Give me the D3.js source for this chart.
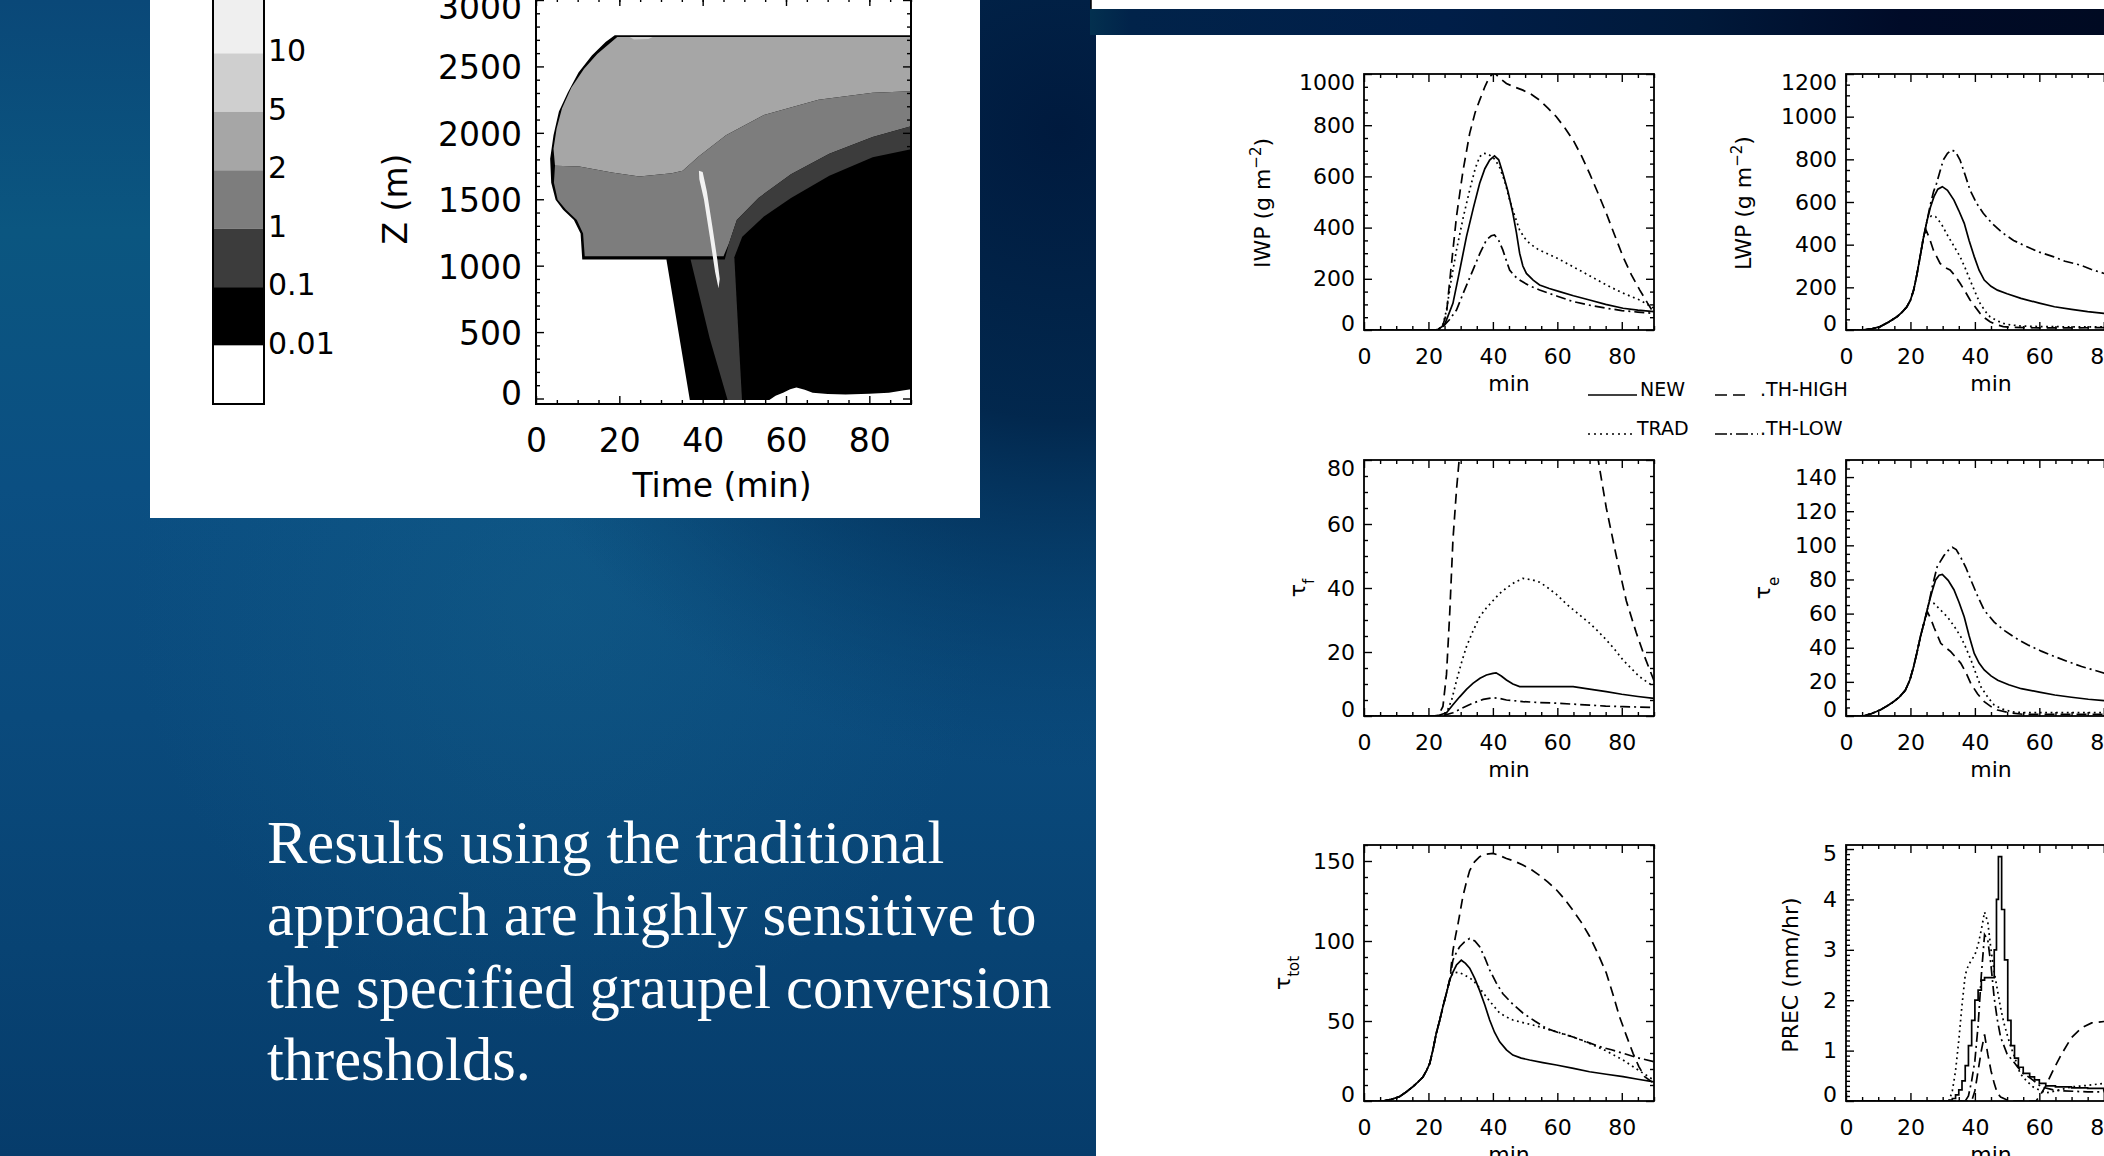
<!DOCTYPE html>
<html><head><meta charset="utf-8">
<script src="https://cdn.jsdelivr.net/npm/d3@7"></script>
<style>html,body{margin:0;padding:0;overflow:hidden;background:#0a4878}svg{display:block}</style>
</head><body>
<svg id="c" width="2104" height="1156"></svg>
<script>
// ================= DATA =================
const slideText = ["Results using the traditional","approach are highly sensitive to","the specified graupel conversion","thresholds."];

// colour bar of the time-height section (top to bottom)
const colorbarLabels = ["10","5","2","1","0.1","0.01"];
const colorbarShades = ["#efefef","#cfcfcf","#a6a6a6","#7d7d7d","#3c3c3c","#000000","#ffffff"];
const contourTicksX = [0,20,40,60,80];
const contourTicksY = [0,500,1000,1500,2000,2500,3000];

// contour regions, [time (min), height (m)]
const regionEnvelope = [[18.9,2735],[90.5,2735],[90.5,-45],[37.1,-45],[31.3,1046],[11.1,1046],[10.7,1242],[9.1,1344],[6.5,1421],[4.7,1497],[3.65,1625],[3.4,1804],[4.2,1982],[5.5,2161],[7.6,2301],[10.2,2454],[13.4,2582],[16.7,2684]];
const regionMid = [[19.5,2722],[90.5,2722],[90.5,2314],[80.8,2301],[67.8,2250],[54.7,2135],[45.6,1982],[39.1,1824],[35.2,1714],[32.6,1696],[24.8,1671],[18.2,1701],[10.4,1747],[4.56,1753],[4.2,1880],[4.95,2033],[6.25,2186],[8.47,2339],[11.5,2480],[14.7,2594],[17.6,2671]];
const regionLight = [[22.5,2722],[28,2722],[27,2706],[23.5,2702]];
const regionLow = [[4.56,1753],[10.4,1747],[18.2,1701],[24.8,1671],[32.6,1696],[35.2,1714],[39.1,1824],[45.6,1982],[54.7,2135],[67.8,2250],[80.8,2301],[90.5,2314],[90.5,2054],[80.8,1969],[70.4,1842],[61.2,1689],[53.4,1510],[48.2,1344],[46.3,1166],[45,1071],[11.7,1071],[11.3,1242],[9.8,1344],[7.2,1421],[5.2,1497],[4.3,1625]];
const regionDark = [[90.5,2054],[80.8,1969],[70.4,1842],[61.2,1689],[53.4,1510],[48.2,1344],[46.3,1166],[45.3,1046],[37.1,1046],[41.7,452],[46.3,-45],[90.5,-45]];
const regionCore = [[90.5,1880],[80.8,1816],[70.4,1676],[61.2,1510],[54.7,1370],[49.5,1217],[47.6,1064],[48.2,707],[49.5,-45],[90.5,-45]];
const regionStreak = [[39.1,1714],[40.0,1705],[41.0,1560],[42.3,1300],[43.5,1050],[44.1,900],[43.8,830],[43.0,950],[41.8,1200],[40.3,1500],[39.2,1650]];
const regionClear = [[0,-60],[0,-12],[56,-12],[57.5,20],[59.3,43],[61,70],[62.5,82],[64.5,65],[66.4,43],[70,33],[74.3,31],[80,36],[84.7,43],[88,60],[91,74],[91,-60]];

// line panels, [time (min), value]
const xTicks = [0,20,40,60,80];
const seriesNames = ["NEW","TRAD","TH-HIGH","TH-LOW"];

const iwpNew  = [[0,0],[22,0],[23,3],[25,20],[27.6,104],[29.5,220],[31.8,365],[34,480],[35.9,573],[37.5,630],[39,664],[40.5,680],[41.8,665],[43.1,612],[44.7,540],[46.2,456],[47.3,380],[48.3,300],[49.3,250],[50.4,221],[52.5,195],[54.5,176],[57.5,162],[60.7,150],[65,134],[70,117],[75,100],[80.4,85],[85,78],[90,72]];
const iwpTrad = [[0,0],[23,0],[24.5,20],[25.6,78],[27,190],[28.7,312],[30.8,440],[32.8,547],[34.5,630],[35.9,677],[37,690],[38.5,688],[40.5,668],[42,638],[43.7,580],[45.2,508],[46.8,445],[48.3,390],[49.8,360],[51.4,338],[54,315],[56.6,300],[60,280],[64.9,247],[70,212],[75.2,176],[80,146],[85.6,117],[90,85]];
const iwpHigh = [[0,0],[23,0],[24.5,20],[25.6,65],[27,240],[28.7,443],[30.7,620],[32.8,768],[34.5,850],[35.9,898],[37.5,950],[39,990],[40.5,1005],[42,985],[44.2,963],[46.5,950],[49.3,937],[52,920],[54.5,898],[57,868],[59.7,833],[62.3,790],[64.9,742],[67.5,680],[70,612],[72.6,535],[75.2,456],[77.8,370],[80.4,286],[83,215],[85.6,156],[88,105],[90,65]];
const iwpLow  = [[0,0],[23,0],[24.5,13],[26.5,40],[28.7,78],[31,150],[33.8,234],[36,300],[38,352],[39.5,368],[40.5,371],[41.8,350],[43.1,312],[44.2,270],[45.2,234],[46.8,210],[48.3,195],[51,175],[54.5,156],[60,132],[64.9,111],[70,97],[75.2,85],[80,76],[85,70],[90,65]];

const lwpNew  = [[0,0],[5,0],[8,5],[10.6,16],[13,35],[15.8,62],[17.5,85],[18.9,109],[20,140],[21,187],[22,260],[23,344],[24,430],[25.2,516],[26.2,575],[27.3,625],[28.5,660],[29.9,672],[31.5,655],[33.5,609],[35,560],[36.7,500],[38.2,420],[39.8,344],[41.3,280],[42.9,234],[45,205],[47,187],[50,170],[54.3,148],[60,126],[64.7,109],[70,97],[75,86],[80,78],[85,68],[90,60]];
const lwpTrad = [[0,0],[5,0],[8,5],[10.6,16],[13,35],[15.8,62],[17.5,85],[18.9,109],[20,140],[21,187],[22,260],[23,344],[24,430],[25.2,516],[26.5,535],[27.8,531],[29.5,500],[31.2,452],[33.3,398],[35.4,344],[37,290],[38.5,234],[40,180],[41.6,125],[43.2,88],[44.7,62],[46.7,45],[48.8,31],[51,24],[54,19],[60,16],[70,15],[80,15],[90,16]];
const lwpHigh = [[0,0],[5,0],[8,5],[10.6,16],[13,35],[15.8,62],[17.5,85],[18.9,109],[20,140],[21,187],[22,260],[23,344],[24,430],[24.8,470],[25.9,430],[27.1,375],[29.2,312],[30.8,292],[32.3,281],[33.8,255],[35.4,219],[37,180],[38.5,141],[40,110],[41.6,78],[43.2,55],[44.7,39],[46.7,25],[48.8,16],[52,12],[60,10],[70,10],[80,11],[90,12]];
const lwpLow  = [[0,0],[5,0],[8,5],[10.6,16],[13,35],[15.8,62],[17.5,85],[18.9,109],[20,140],[21,187],[22,260],[23,344],[24,430],[25.2,516],[26.2,590],[27.2,650],[28.1,687],[29.2,745],[30.2,797],[31.5,828],[32.8,844],[34,835],[35.4,797],[37,725],[38.5,656],[40.5,595],[42.6,547],[45.5,497],[48.8,453],[52,420],[56,391],[60,365],[64.3,344],[68,322],[72.6,305],[76,285],[79.9,266],[85,248],[90,230]];

const tfNew  = [[0,0],[21.4,0],[23.5,0.3],[25.6,1],[27.6,3.5],[29.7,6],[31.8,8.3],[33.8,10.2],[36,11.8],[38,12.8],[40,13.3],[41,13.5],[42.6,12.5],[44.2,11.25],[46.2,10],[48.3,9.2],[54.5,9.2],[60,9.2],[64.9,9.2],[70,8.4],[75.2,7.6],[80,6.8],[85,6.1],[90,5.5]];
const tfTrad = [[0,0],[23,0],[25.6,1],[27.2,5],[28.7,11],[30.2,16.5],[31.8,21.7],[33.8,26.5],[35.9,31],[38,33.8],[40,36],[42,38.2],[44.2,40],[46.8,41.8],[49.3,43],[52.4,42.5],[54.5,41.8],[56.6,40.4],[59.7,38],[62.8,35],[66.4,32],[70,29],[72.6,26.5],[75.2,23.8],[77.8,20.8],[80.4,17.5],[83,14.8],[85.5,12.3],[88,10.5],[90,9.2]];
const tfHigh = [[0,0],[23,0],[24.5,3],[25.6,13],[26.6,32],[27.6,55],[28.7,70.6],[29.7,82],[32,100],[35,119],[40,138],[45,145],[50,145],[55,140],[60,131],[65,118],[70,98],[72.6,80.5],[75.2,65],[78.3,50],[81.4,36],[84.5,26],[87.1,18.5],[90,11]];
const tfLow  = [[0,0],[24,0],[27.6,1],[30.5,2.5],[33.8,4],[37,5.2],[40,5.7],[42,5.5],[44.2,5],[49.3,4.5],[54.5,4.2],[59.7,4],[65,3.7],[70,3.4],[75,3.1],[80.4,2.9],[85,2.8],[90,2.7]];

const teNew  = [[0,0],[5.4,0],[8,1.5],[10.6,3.5],[12.7,5.8],[14.8,8.4],[16.6,11.2],[18.4,15],[19.8,21],[21,29],[22,37],[23.1,46.5],[24.4,56],[25.7,66],[26.8,73.5],[27.8,79.7],[28.9,82.5],[29.9,83],[31.7,79.5],[33.5,74],[35.1,66.5],[36.7,58],[38.2,47],[39.8,36.7],[41.3,31],[42.9,27],[45,23.5],[47.1,21],[50.5,18.3],[54.4,16],[60,14],[64.8,12.3],[70,11],[75.2,9.8],[80.4,9],[85,8],[90,7]];
const teTrad = [[0,0],[5.4,0],[8,1.5],[10.6,3.5],[12.7,5.8],[14.8,8.4],[16.6,11.2],[18.4,15],[19.8,21],[21,29],[22,37],[23.1,46.5],[24.4,56],[25.7,66],[27.3,66],[29.4,62],[31.5,58],[33.6,52.5],[35.6,46.5],[37.2,40],[38.75,33],[40.3,25],[41.9,17],[44,11],[46,6.4],[48.6,4],[51.25,2.5],[55,2],[60,2],[70,2],[80,2],[90,2]];
const teHigh = [[0,0],[5.4,0],[8,1.5],[10.6,3.5],[12.7,5.8],[14.8,8.4],[16.6,11.2],[18.4,15],[19.8,21],[21,29],[22,37],[23.1,46.5],[24.4,56],[25.3,61],[26.3,57],[27.3,52],[29.4,42.6],[31,40],[32.5,37.7],[34,34.5],[35.6,31],[37.2,25.5],[38.75,19],[40.8,13],[42.9,8.4],[45,5.5],[47,3.5],[51,1.8],[55,1],[70,1],[90,1]];
const teLow  = [[0,0],[5.4,0],[8,1.5],[10.6,3.5],[12.7,5.8],[14.8,8.4],[16.6,11.2],[18.4,15],[19.8,21],[21,29],[22,37],[23.1,46.5],[24.4,56],[25.7,66],[26.8,76],[28.3,87.5],[30.4,94],[31.7,97],[33,98.8],[34.2,97.5],[35.6,93],[37.2,87],[38.75,79.7],[40.8,70.5],[42.9,62],[46,55],[49.2,50],[52.8,45.5],[56.5,41.6],[60.6,38],[64.8,34.8],[69,31.8],[73.1,29],[76.8,27],[80.4,25],[85,23.5],[90,22]];

const ttNew  = [[0,0],[5.9,0],[8.5,1],[11,2.7],[13,5.5],[15.2,9],[16.8,12],[18.3,15],[19.4,19],[20.4,23.5],[21.4,32],[22.4,42],[23.5,50.5],[24.5,59],[25.6,67.5],[26.6,75.6],[27.6,80.5],[28.7,85],[30.2,88],[31.5,86],[32.8,83],[34.4,76.5],[35.9,69],[37.5,60],[39,50.6],[40.5,43],[42.1,37],[44.2,32],[46.2,28.7],[48.8,26.8],[51.4,25.6],[55.5,24],[59.7,22.5],[65,20.4],[70,18.3],[75.2,16.7],[80.4,15.2],[85,13.6],[90,12]];
const ttTrad = [[0,0],[5.9,0],[8.5,1],[11,2.7],[13,5.5],[15.2,9],[16.8,12],[18.3,15],[19.4,19],[20.4,23.5],[21.4,32],[22.4,42],[23.5,50.5],[24.5,59],[25.6,67.5],[26.6,75.6],[27.6,80],[29.2,80.5],[31,79],[33.8,75.6],[35.9,70.5],[38,65],[40,60],[42.1,55],[44.2,52.5],[46.2,50.6],[49.3,49],[52.4,47.5],[56,45.5],[59.7,43.3],[65,40],[70,36],[75,31.5],[80.4,25.6],[85,19.5],[90,13]];
const ttHigh = [[0,0],[5.9,0],[8.5,1],[11,2.7],[13,5.5],[15.2,9],[16.8,12],[18.3,15],[19.4,19],[20.4,23.5],[21.4,32],[22.4,42],[23.5,50.5],[24.5,59],[25.6,67.5],[26.6,75.6],[27.6,94],[28.4,103],[29.2,111],[30,120],[30.7,128],[31.8,137],[32.8,144],[34.3,149.5],[35.9,152.7],[38,154.3],[40,154.8],[42,153.5],[44.2,151.6],[46.8,149.8],[49.3,147.5],[52,144.5],[54.5,141],[57,137],[59.7,132],[62.3,126],[64.9,119],[67.5,111.5],[70,103],[72.6,92],[75.2,80],[77.2,67],[79.3,52.7],[81.4,41],[83.5,29.8],[85.3,21.5],[87.1,15.2],[90,11]];
const ttLow  = [[0,0],[5.9,0],[8.5,1],[11,2.7],[13,5.5],[15.2,9],[16.8,12],[18.3,15],[19.4,19],[20.4,23.5],[21.4,32],[22.4,42],[23.5,50.5],[24.5,59],[25.6,67.5],[26.6,75.6],[27.6,88],[28.7,93],[29.7,96.4],[31.2,99.5],[32.8,101.6],[34.4,100],[35.9,96.4],[37.5,89.5],[39,82],[41,74],[43.1,67],[46.2,60.5],[49.3,55],[53,50],[56.6,45.4],[60.7,42.5],[64.9,40],[69,37],[73.1,34],[76.8,32],[80.4,29.8],[85,27],[90,24.6]];

const precNew  = [[0,0],[31,0],[32,0.02],[33,0.05],[34,0.12],[35,0.22],[36,0.4],[37,0.7],[38,1.1],[39,1.6],[40,2.0],[41,2.2],[42,2.4],[43,2.45],[44,2.45],[45,2.45],[46,3.0],[46.7,4.0],[47.3,4.85],[48.3,3.8],[49.2,2.8],[50.2,1.6],[51.2,1.1],[52.3,0.85],[53.5,0.67],[55,0.55],[57,0.48],[58.5,0.42],[60,0.35],[62,0.3],[65,0.28],[70,0.26],[75,0.25],[80,0.21],[85,0.2],[90,0.2]];
const precTrad = [[0,0],[32,0],[33,0.2],[34,0.6],[35,1.2],[36,1.9],[37,2.5],[38,2.7],[39,2.8],[40,2.9],[41,3.1],[42,3.4],[43,3.75],[44,3.55],[45,3.0],[46,2.56],[47,2.2],[48,1.84],[49,1.55],[50,1.32],[51,1.1],[52,0.93],[53,0.75],[54,0.55],[56,0.4],[58,0.28],[60,0.22],[62,0.16],[65,0.2],[70,0.28],[75,0.31],[80,0.35],[85,0.35],[90,0.35]];
const precHigh = [[0,0],[39,0],[40,0.2],[41,0.6],[42,1.0],[43,1.32],[44,0.93],[45,0.6],[46,0.35],[47,0.15],[48,0.08],[50,0.02],[52,0],[59,0],[60.6,0.15],[62,0.3],[63.75,0.54],[65,0.7],[66.9,0.93],[70,1.26],[73.1,1.45],[76.25,1.55],[80.4,1.58],[85,1.55],[90,1.5]];
const precLow  = [[0,0],[37,0],[38,0.1],[39,0.4],[40,0.8],[41,1.5],[42,2.5],[43,3.3],[44,3.2],[45,2.69],[46,2.04],[47,1.6],[48,1.26],[49,1.1],[50,0.93],[52,0.78],[53.3,0.67],[55,0.55],[57.5,0.44],[60.6,0.28],[65,0.21],[75,0.18],[90,0.18]];

// ================= DRAWING =================
const svg = d3.select("#c");
const defs = svg.append("defs");
const FONT = "'DejaVu Sans', sans-serif";

// background gradients
const bg = defs.append("linearGradient").attr("id","bg").attr("x1",0).attr("y1",0).attr("x2",0).attr("y2",1);
[[0,"#0a4878"],[0.2,"#0b5680"],[0.42,"#0b4f82"],[0.62,"#0a4a7c"],[0.82,"#084373"],[1,"#063c6b"]]
  .forEach(s=>bg.append("stop").attr("offset",s[0]).attr("stop-color",s[1]));
const dk = defs.append("radialGradient").attr("id","dk").attr("gradientUnits","userSpaceOnUse")
  .attr("cx",1060).attr("cy",130).attr("r",640);
[[0,"#001a3e",1],[0.45,"#012449",0.92],[0.75,"#03335c",0.45],[1,"#063c66",0]]
  .forEach(s=>dk.append("stop").attr("offset",s[0]).attr("stop-color",s[1]).attr("stop-opacity",s[2]));
const tl = defs.append("radialGradient").attr("id","tl").attr("gradientUnits","userSpaceOnUse")
  .attr("cx",560).attr("cy",600).attr("r",430);
[[0,"#1a6c90",0.28],[1,"#1a6c90",0]].forEach(s=>tl.append("stop").attr("offset",s[0]).attr("stop-color",s[1]).attr("stop-opacity",s[2]));
const band = defs.append("linearGradient").attr("id","band").attr("x1",0).attr("y1",0).attr("x2",1).attr("y2",0);
[[0,"#03304f"],[0.04,"#01234a"],[0.35,"#001e48"],[0.6,"#00193a"],[0.8,"#000b28"],[1,"#000a22"]]
  .forEach(s=>band.append("stop").attr("offset",s[0]).attr("stop-color",s[1]));

svg.append("rect").attr("width",2104).attr("height",1156).attr("fill","url(#bg)");
svg.append("rect").attr("width",2104).attr("height",1156).attr("fill","url(#tl)");
svg.append("rect").attr("width",2104).attr("height",1156).attr("fill","url(#dk)");

// right-hand figure frame
svg.append("rect").attr("x",1090).attr("y",9).attr("width",1014).attr("height",26).attr("fill","url(#band)");
svg.append("rect").attr("x",1091).attr("y",0).attr("width",1013).attr("height",9).attr("fill","#fff");
svg.append("line").attr("x1",1091).attr("x2",1091).attr("y1",0).attr("y2",9).attr("stroke","#000").attr("stroke-width",1.5);
svg.append("rect").attr("x",1096).attr("y",35).attr("width",1008).attr("height",1121).attr("fill","#fff");

// left figure panel
svg.append("rect").attr("x",150).attr("y",0).attr("width",830).attr("height",518).attr("fill","#fff");

// slide text
const st = svg.append("text").attr("font-family","'Liberation Serif','Times New Roman',serif")
  .attr("font-size",60.5).attr("fill","#fff");
slideText.forEach((t,i)=>st.append("tspan").attr("x",267).attr("y",863+i*72.3).text(t));

// ---------- colour bar ----------
const cbY = d3.scaleBand().domain(d3.range(colorbarShades.length)).range([-5,404]).paddingInner(0);
svg.append("g").selectAll("rect").data(colorbarShades).join("rect")
  .attr("x",213).attr("width",51).attr("y",(d,i)=>cbY(i)).attr("height",cbY.bandwidth()).attr("fill",d=>d);
svg.append("rect").attr("x",213).attr("y",-5).attr("width",51).attr("height",409)
  .attr("fill","none").attr("stroke","#000").attr("stroke-width",2);
svg.append("g").selectAll("text").data(colorbarLabels).join("text")
  .attr("x",268).attr("y",(d,i)=>cbY(i+1)+8).attr("font-family",FONT).attr("font-size",30).text(d=>d);

// ---------- time-height section ----------
const cx = d3.scaleLinear().domain([0,90]).range([536,911]);
const cy = d3.scaleLinear().domain([0,3000]).range([398.5,0]);
defs.append("clipPath").attr("id","clipC").append("rect").attr("x",536).attr("y",-2).attr("width",375).attr("height",406);
const cg = svg.append("g").attr("clip-path","url(#clipC)");
const poly = d3.line().x(d=>cx(d[0])).y(d=>cy(d[1]));
[[regionEnvelope,colorbarShades[5]],[regionMid,colorbarShades[2]],[regionLight,colorbarShades[1]],
 [regionLow,colorbarShades[3]],[regionDark,colorbarShades[4]],[regionCore,colorbarShades[5]],
 [regionStreak,"#f2f2f2"],[regionClear,colorbarShades[6]]]
 .forEach(r=>cg.append("path").attr("d",poly(r[0])+"Z").attr("fill",r[1]));

function styleAxis(g,size){
  g.select(".domain").remove();
  g.selectAll(".tick line").attr("stroke","#000").attr("stroke-width",1.4);
  g.attr("font-family",FONT).attr("font-size",size);
  g.selectAll(".tick text").attr("fill","#000");
}
{
  const minorX = d3.range(0,91,5), minorY = d3.range(0,3001,100);
  const y0 = 404;
  let g = svg.append("g").attr("transform",`translate(0,${y0})`)
    .call(d3.axisBottom(cx).tickValues(minorX.filter(v=>v%20)).tickSize(-4).tickFormat(""));
  styleAxis(g,33);
  g = svg.append("g").attr("transform",`translate(0,${y0})`)
    .call(d3.axisBottom(cx).tickValues(contourTicksX).tickSize(-8).tickPadding(25).tickFormat(d3.format("d")));
  styleAxis(g,33);
  g = svg.append("g").attr("transform","translate(0,-2)")
    .call(d3.axisTop(cx).tickValues(minorX).tickSize(-4).tickFormat(""));
  styleAxis(g,33);
  g = svg.append("g").attr("transform","translate(0,-2)")
    .call(d3.axisTop(cx).tickValues(contourTicksX).tickSize(-8).tickFormat(""));
  styleAxis(g,33);
  g = svg.append("g").attr("transform","translate(536,0)")
    .call(d3.axisLeft(cy).tickValues(minorY.filter(v=>v%500)).tickSize(-4).tickFormat(""));
  styleAxis(g,33);
  g = svg.append("g").attr("transform","translate(536,0)")
    .call(d3.axisLeft(cy).tickValues(contourTicksY).tickSize(-8).tickPadding(14).tickFormat(d3.format("d")));
  styleAxis(g,33);
  g.selectAll(".tick text").attr("y",d=>{const p=cy(d); return Math.max(Math.min(p,392),6)-p+2;});
  g = svg.append("g").attr("transform","translate(911,0)")
    .call(d3.axisRight(cy).tickValues(minorY.filter(v=>v%500)).tickSize(-4).tickFormat(""));
  styleAxis(g,33);
  g = svg.append("g").attr("transform","translate(911,0)")
    .call(d3.axisRight(cy).tickValues(contourTicksY).tickSize(-8).tickFormat(""));
  styleAxis(g,33);
  svg.append("rect").attr("x",536).attr("y",-2).attr("width",375).attr("height",406)
    .attr("fill","none").attr("stroke","#000").attr("stroke-width",2);
  svg.append("text").attr("x",722).attr("y",497).attr("text-anchor","middle")
    .attr("font-family",FONT).attr("font-size",33).text("Time (min)");
  svg.append("text").attr("transform","translate(407,199) rotate(-90)").attr("text-anchor","middle")
    .attr("font-family",FONT).attr("font-size",33).text("Z (m)");
}

// ---------- line panels ----------
const dash = {"NEW":null,"TRAD":"1.8,3.6","TH-HIGH":"10,6","TH-LOW":"10,4,2,4"};
const PW = 290, PH = 256;
const panels = [
  {key:"iwp",x:1364,y:74,yMax:1000,major:200,minor:50,data:[iwpNew,iwpTrad,iwpHigh,iwpLow],
   title:[["IWP (g m",null],["−2","super"],[")",null]],tx:1270,ty:203},
  {key:"lwp",x:1846,y:74,yMax:1200,major:200,minor:50,data:[lwpNew,lwpTrad,lwpHigh,lwpLow],
   title:[["LWP (g m",null],["−2","super"],[")",null]],tx:1751,ty:203},
  {key:"tf",x:1364,y:460,yMax:80,major:20,minor:5,data:[tfNew,tfTrad,tfHigh,tfLow],
   title:[["τ",null],["f","sub"]],tx:1305,ty:588},
  {key:"te",x:1846,y:460,yMax:150,major:20,minor:5,data:[teNew,teTrad,teHigh,teLow],
   title:[["τ",null],["e","sub"]],tx:1770,ty:588},
  {key:"tt",x:1364,y:845,yMax:160,major:50,minor:10,data:[ttNew,ttTrad,ttHigh,ttLow],
   title:[["τ",null],["tot","sub"]],tx:1290,ty:973},
  {key:"pr",x:1846,y:845,yMax:5.08,major:1,minor:0.1,data:[precNew,precTrad,precHigh,precLow],step:true,
   title:[["PREC (mm/hr)",null]],tx:1798,ty:975}
];

panels.forEach(p=>{
  const x = d3.scaleLinear().domain([0,90]).range([p.x,p.x+PW]);
  const y = d3.scaleLinear().domain([0,p.yMax]).range([p.y+PH,p.y]);
  const id = "clip_"+p.key;
  defs.append("clipPath").attr("id",id).append("rect").attr("x",p.x).attr("y",p.y).attr("width",PW).attr("height",PH);
  const lg = svg.append("g").attr("clip-path",`url(#${id})`);
  p.data.forEach((d,i)=>{
    const line = d3.line().x(v=>x(v[0])).y(v=>y(v[1]))
      .curve(p.step && i===0 ? d3.curveStepAfter : d3.curveLinear);
    lg.append("path").attr("d",line(d)).attr("fill","none").attr("stroke","#000")
      .attr("stroke-width",1.7).attr("stroke-dasharray",dash[seriesNames[i]]);
  });
  const minorX = d3.range(0,91,5);
  const nY = Math.round(p.yMax/p.minor);
  const allY = d3.range(0,nY+1).map(k=>+(k*p.minor).toFixed(4)).filter(v=>v<=p.yMax);
  const isMajor = v=>Math.abs(v/p.major-Math.round(v/p.major))<1e-6;
  const majY = allY.filter(isMajor), minY = allY.filter(v=>!isMajor(v));
  const bottom = p.y+PH;
  let g;
  g = svg.append("g").attr("transform",`translate(0,${bottom})`)
    .call(d3.axisBottom(x).tickValues(minorX.filter(v=>v%20)).tickSize(-4).tickFormat("")); styleAxis(g,22);
  g = svg.append("g").attr("transform",`translate(0,${bottom})`)
    .call(d3.axisBottom(x).tickValues(xTicks).tickSize(-8).tickPadding(18).tickFormat(d3.format("d"))); styleAxis(g,22);
  g = svg.append("g").attr("transform",`translate(0,${p.y})`)
    .call(d3.axisTop(x).tickValues(minorX.filter(v=>v%20)).tickSize(-4).tickFormat("")); styleAxis(g,22);
  g = svg.append("g").attr("transform",`translate(0,${p.y})`)
    .call(d3.axisTop(x).tickValues(xTicks).tickSize(-8).tickFormat("")); styleAxis(g,22);
  g = svg.append("g").attr("transform",`translate(${p.x},0)`)
    .call(d3.axisLeft(y).tickValues(minY).tickSize(-4).tickFormat("")); styleAxis(g,22);
  g = svg.append("g").attr("transform",`translate(${p.x},0)`)
    .call(d3.axisLeft(y).tickValues(majY).tickSize(-8).tickPadding(9).tickFormat(d3.format("d"))); styleAxis(g,22);
  g.selectAll(".tick text").attr("y",d=>{const q=y(d); return Math.max(Math.min(q,bottom-7),p.y+8)-q;});
  g = svg.append("g").attr("transform",`translate(${p.x+PW},0)`)
    .call(d3.axisRight(y).tickValues(minY).tickSize(-4).tickFormat("")); styleAxis(g,22);
  g = svg.append("g").attr("transform",`translate(${p.x+PW},0)`)
    .call(d3.axisRight(y).tickValues(majY).tickSize(-8).tickFormat("")); styleAxis(g,22);
  svg.append("rect").attr("x",p.x).attr("y",p.y).attr("width",PW).attr("height",PH)
    .attr("fill","none").attr("stroke","#000").attr("stroke-width",1.8);
  svg.append("text").attr("x",p.x+PW/2).attr("y",bottom+61).attr("text-anchor","middle")
    .attr("font-family",FONT).attr("font-size",22).text("min");
  const t = svg.append("text").attr("transform",`translate(${p.tx},${p.ty}) rotate(-90)`)
    .attr("text-anchor","middle").attr("font-family",FONT).attr("font-size",22);
  p.title.forEach(s=>{
    const ts = t.append("tspan").text(s[0]);
    if(s[1]){ ts.attr("baseline-shift",s[1]).attr("font-size",15); }
  });
});

// ---------- legend ----------
const legend = [
  {name:"NEW",x1:1588,x2:1637,tx:1640,y:396},
  {name:"TRAD",x1:1588,x2:1633,tx:1637,y:435},
  {name:"TH-HIGH",x1:1715,x2:1748,tx:1760,y:396,pre:"."},
  {name:"TH-LOW",x1:1715,x2:1758,tx:1760,y:435,pre:"."}
];
const legDash = {"NEW":null,"TRAD":"2,4","TH-HIGH":"12,6","TH-LOW":"12,3,2,4"};
legend.forEach(l=>{
  svg.append("line").attr("x1",l.x1).attr("x2",l.x2).attr("y1",l.y-1).attr("y2",l.y-1)
    .attr("stroke","#000").attr("stroke-width",1.7).attr("stroke-dasharray",legDash[l.name]);
  svg.append("text").attr("x",l.tx).attr("y",l.y).attr("font-family",FONT).attr("font-size",19)
    .text((l.pre||"")+l.name);
});
</script>
</body></html>
